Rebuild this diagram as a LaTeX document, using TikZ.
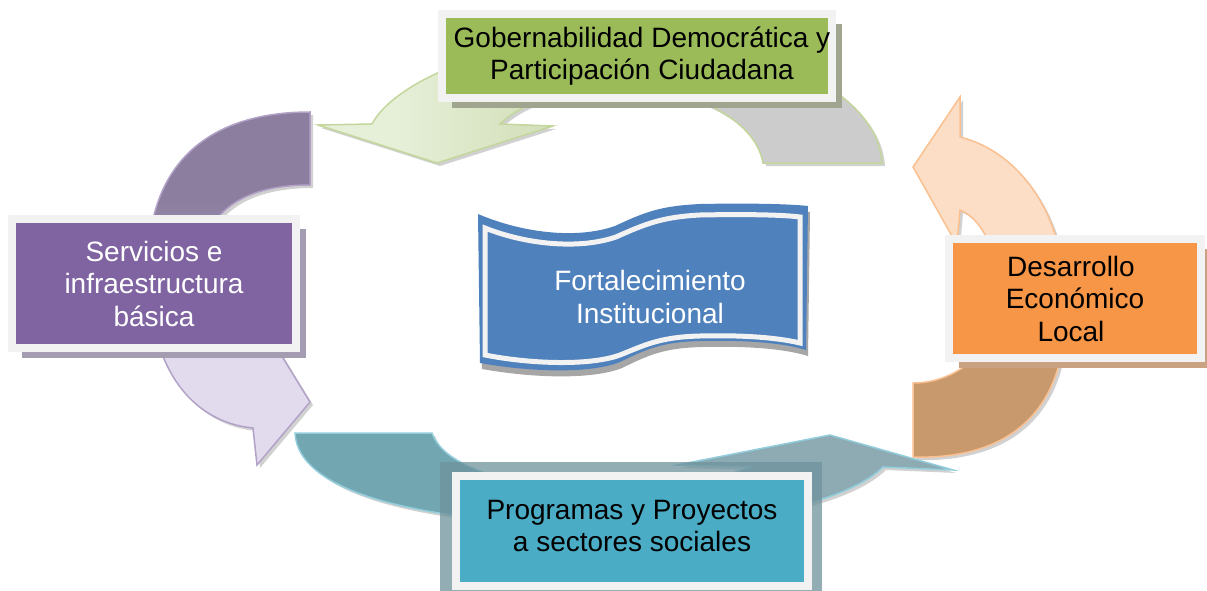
\documentclass[tikz,border=0pt]{standalone}
\usepackage{fontspec}
\setmainfont{Liberation Sans}
\usetikzlibrary{shadows}
\definecolor{frame}{HTML}{F2F2F2}
\definecolor{gfill}{HTML}{9BBB59}
\definecolor{pfill}{HTML}{8064A2}
\definecolor{ofill}{HTML}{F79646}
\definecolor{tfill}{HTML}{4BACC6}
\definecolor{bfill}{HTML}{4F81BD}
\definecolor{gborder}{HTML}{C3D69B}
\definecolor{pborder}{HTML}{B3A2C7}
\definecolor{oborder}{HTML}{FAC090}
\definecolor{tborder}{HTML}{92CDDC}
\definecolor{gA}{HTML}{E6EFD8}
\definecolor{gB}{HTML}{D3E0BA}
\definecolor{gC}{HTML}{CCCCCC}
\definecolor{pT}{HTML}{8B7E9F}
\definecolor{pB}{HTML}{E2DBEE}
\definecolor{oT}{HTML}{FCDDC6}
\definecolor{oB}{HTML}{C9996E}
\definecolor{tL}{HTML}{72A6B1}
\definecolor{tR}{HTML}{8EABB4}
\definecolor{gshadow}{HTML}{A0A58F}
\definecolor{pshadow}{HTML}{A49CB1}
\definecolor{oshadow}{HTML}{C9A282}
\definecolor{tdark}{HTML}{6F929C}
\pgfdeclarehorizontalshading{greensh}{100bp}{color(0bp)=(gA); color(32bp)=(gA); color(45bp)=(gB); color(60bp)=(gC); color(100bp)=(gC)}
\pgfdeclareverticalshading{purpsh}{100bp}{color(0bp)=(pB); color(41bp)=(pB); color(62bp)=(pT); color(100bp)=(pT)}
\pgfdeclareverticalshading{orangesh}{100bp}{color(0bp)=(oB); color(39bp)=(oB); color(55bp)=(oT); color(100bp)=(oT)}
\pgfdeclarehorizontalshading{tealsh}{100bp}{color(0bp)=(tL); color(40bp)=(tL); color(60bp)=(tR); color(100bp)=(tR)}
\newcommand\mybf{\fontsize{28}{32.5}\selectfont}
\newcommand\lowr[1]{\raisebox{5pt}[\height][\depth]{#1}}
\def\greenarrow{(763,163) -- (882,163) .. controls (878,90) and (760,38) .. (625,36) .. controls (490,36) and (392,85) .. (372,124) -- (318,125) -- (437,163) -- (553,126) -- (500,124) .. controls (525,100) and (570,88) .. (625,88) .. controls (690,88) and (755,118) .. (763,163) -- cycle}
\def\purplearrow{(310,112) .. controls (212,112) and (150,160) .. (148,262) .. controls (146,365) and (190,422) .. (253,428) -- (257,465) -- (310,402) -- (272,340) -- (252,350) .. controls (215,330) and (198,290) .. (205,240) .. controls (220,200) and (260,185) .. (310,185) -- cycle}
\def\orangearrow{(913,383) -- (913,457) .. controls (1010,460) and (1070,410) .. (1065,300) .. controls (1065,215) and (1020,152) .. (960,137) -- (960,97) -- (913,167) -- (957,245) -- (960,210) .. controls (985,220) and (1000,260) .. (1000,300) .. controls (1000,345) and (960,383) .. (913,383) -- cycle}
\def\tealarrow{(295,433) -- (432,433) .. controls (445,470) and (520,490) .. (620,490) .. controls (680,490) and (720,478) .. (750,467) -- (677,465) -- (830,435) -- (953,470) -- (883,467) .. controls (850,500) and (750,525) .. (620,525) .. controls (430,525) and (298,495) .. (295,433) -- cycle}
\def\waveouter{(478,214) .. controls (520,232) and (575,240) .. (615,226) .. controls (645,212) and (660,206) .. (700,204) .. controls (750,203) and (790,204) .. (808,206) -- (806,350) .. controls (780,342) and (740,340) .. (700,341) .. controls (660,342) and (645,350) .. (620,362) .. controls (590,374) and (530,372) .. (480,363) -- cycle}
\def\waveinner{(485,228) .. controls (525,244) and (578,250) .. (616,237) .. controls (645,224) and (662,217) .. (700,215) .. controls (750,214) and (785,215) .. (800,217) -- (800,343) .. controls (775,337) and (738,335) .. (700,336) .. controls (660,337) and (645,345) .. (620,355) .. controls (590,366) and (530,364) .. (485,355) -- cycle}
\tikzset{
  box/.style={draw=frame, line width=8pt, inner sep=0pt, align=center, font=\mybf},
  arrowshadow/.style={fill=black, opacity=0.18, shift={(3,3)}}
}
\begin{document}
\begin{tikzpicture}[x=1pt,y=-1pt]
\useasboundingbox[fill=white] (0,0) rectangle (1207,591);
% circular arrows
\fill[arrowshadow] \greenarrow;
\path[shade, shading=greensh, draw=gborder, line width=1.5pt, line join=miter] \greenarrow;
\fill[arrowshadow] \purplearrow;
\path[shade, shading=purpsh, draw=pborder, line width=1.5pt] \purplearrow;
\fill[arrowshadow] \orangearrow;
\path[shade, shading=orangesh, draw=oborder, line width=1.5pt] \orangearrow;
\fill[arrowshadow] \tealarrow;
\path[shade, shading=tealsh, draw=tborder, line width=1.5pt] \tealarrow;
% translucent block behind the bottom box
\fill[tdark, opacity=0.75] (440,462) rectangle (822,591);
% boxes
\node[box, fill=gfill, minimum width=390pt, minimum height=84pt,
  drop shadow={shadow xshift=10pt, shadow yshift=-10pt, fill=gshadow, opacity=1}]
  (gov) at (637,56) {\hspace*{10pt}Gobernabilidad Democrática y\\\hspace*{10pt}Participación Ciudadana};
\node[box, fill=pfill, text=white, minimum width=284pt, minimum height=129pt,
  drop shadow={shadow xshift=10pt, shadow yshift=-10pt, fill=pshadow, opacity=1}]
  (serv) at (154,283.5) {Servicios e\\infraestructura\\básica};
\node[box, fill=ofill, minimum width=252pt, minimum height=119pt,
  drop shadow={shadow xshift=10pt, shadow yshift=-10pt, fill=oshadow, opacity=1}]
  (des) at (1075,298.5) {Desarrollo\hspace*{8pt}\\Económico\\Local\hspace*{8pt}};
\node[box, fill=tfill, minimum width=352pt, minimum height=110pt]
  (prog) at (632,531) {\lowr{Programas y Proyectos}\\\lowr{a sectores sociales}};
% central wave banner
\fill[black!35, shift={(2,6)}] \waveouter;
\fill[bfill] \waveouter;
\path[fill=bfill, draw=frame, line width=5pt] \waveinner;
\node[font=\mybf, text=white, align=center] (fort) at (650,297) {Fortalecimiento\\Institucional};
\end{tikzpicture}
\end{document}
